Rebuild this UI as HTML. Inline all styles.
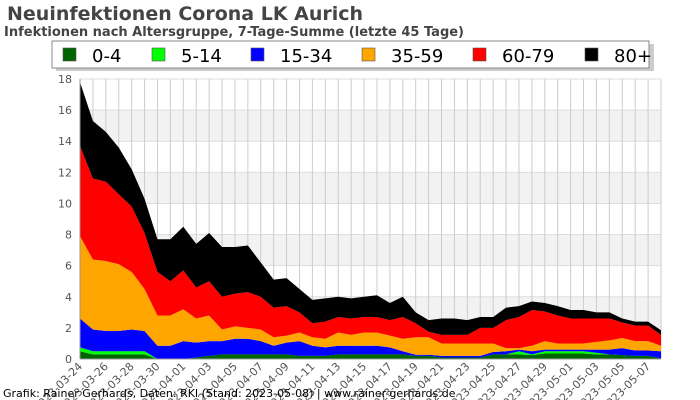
<!DOCTYPE html>
<html><head><meta charset="utf-8"><style>
body{margin:0;background:#fff;width:700px;height:400px;overflow:hidden;font-family:"DejaVu Sans","Liberation Sans",sans-serif;}
svg{display:block}
</style></head><body>
<svg id="c" width="700" height="400" xmlns="http://www.w3.org/2000/svg">
<text x="7" y="20" font-size="19" font-weight="bold" fill="#444">Neuinfektionen Corona LK Aurich</text>
<text x="4" y="36" font-size="13" font-weight="bold" fill="#444">Infektionen nach Altersgruppe, 7-Tage-Summe (letzte 45 Tage)</text>
<g id="grid"></g>
<g id="areas"></g>
<g id="axes"></g>
<rect x="56" y="44" width="598" height="27" fill="#ccc"/>
<rect x="52" y="41" width="597" height="27" fill="#fff" stroke="#888"/>
<g id="legend"></g>
<text x="3" y="397" font-size="11" fill="#000">Grafik: Rainer Gerhards, Daten: RKI (Stand: 2023-05-08) | www.rainer-gerhards.de</text>
</svg>
<script>
const groups=["0-4","5-14","15-34","35-59","60-79","80+"];
const colors=["#006400","#00ff00","#0000ff","#ffa500","#ff0000","#000000"];
const startDate="2023-03-24";
const yTicks=[0,2,4,6,8,10,12,14,16,18];
const g04=[.5,.3,.3,.3,.3,.3,0,0,0,.1,.2,.3,.3,.3,.3,.3,.3,.2,.2,.2,.3,.3,.3,.3,.3,.3,.2,.2,.1,.1,.1,.1,.3,.3,.3,.25,.35,.35,.35,.35,.3,.3,.25,.2,.2,.05];
const g514=[.25,.2,.2,.2,.2,.2,0,0,0,0,0,0,0,0,0,0,0,0,0,0,0,0,0,0,0,0,0,0,0,0,0,0,0,0,.2,.05,.15,.15,.15,.15,.1,0,0,0,0,0];
const g1534=[1.85,1.4,1.3,1.3,1.4,1.3,.85,.85,1.15,.95,.95,.85,1,1,.85,.55,.75,.95,.65,.55,.55,.55,.55,.55,.45,.2,.07,.07,.1,.1,.1,.1,.15,.2,.1,.2,.1,.1,.1,.1,.2,.3,.45,.35,.35,.45];
const g3559=[5.3,4.5,4.5,4.3,3.7,2.7,1.95,1.95,2.05,1.55,1.65,.75,.8,.7,.75,.55,.45,.55,.55,.55,.85,.7,.85,.85,.75,.8,1.13,1.13,.8,.8,.8,.8,.55,.2,.1,.35,.55,.4,.4,.4,.5,.6,.65,.6,.6,.35];
const g6079=[5.8,5.2,5.1,4.5,4.2,3.6,2.8,2.2,2.5,2,2.2,2.1,2.1,2.3,2.1,1.9,1.9,1.3,.9,1.1,1,1.05,1,1,1,1.4,.9,.35,.55,.55,.55,1,1,1.8,2,2.3,1.9,1.8,1.6,1.6,1.5,1.4,1,1,1,.7];
const g80=[4.1,3.7,3.2,3,2.4,2.2,2.1,2.7,2.8,2.8,3.1,3.2,3,3,2.2,1.8,1.8,1.5,1.5,1.5,1.3,1.3,1.3,1.4,1.1,1.3,.7,.75,1.05,1.05,.95,.7,.7,.8,.7,.55,.55,.6,.55,.55,.4,.4,.25,.25,.25,.3];
const series=[g04,g514,g1534,g3559,g6079,g80];

const NS="http://www.w3.org/2000/svg";
const X0=80,X1=661,Y0=359,Y1=79,YMAX=18;
const n=g04.length;
const xs=i=>X0+(X1-X0)*i/(n-1);
const ys=v=>Y0-(Y0-Y1)*v/YMAX;
function mk(tag,parent,attrs){const e=document.createElementNS(NS,tag);for(const k in attrs)e.setAttribute(k,attrs[k]);parent.appendChild(e);return e;}
const grid=document.getElementById('grid'),areas=document.getElementById('areas'),axes=document.getElementById('axes'),leg=document.getElementById('legend');
for(let i=0;i+1<yTicks.length;i++){
  if(i%2===1){const r=mk('rect',grid,{x:X0,y:ys(yTicks[i+1]),width:X1-X0,height:ys(yTicks[i])-ys(yTicks[i+1]),fill:'#f2f2f2'});
  
  }
}
yTicks.forEach(t=>{
  const l=mk('line',grid,{x1:X0,x2:X1,y1:ys(t),y2:ys(t),stroke:'#ddd','stroke-width':1});
  
  
  const tx=mk('text',axes,{x:X0-8,y:ys(t)+4,'text-anchor':'end','font-size':11,fill:'#555'});
  tx.textContent=t;
  
  
});
const d0=new Date(startDate+"T12:00:00Z");
for(let i=0;i<n;i++){
  const l=mk('line',grid,{x1:xs(i),x2:xs(i),y1:Y1,y2:Y0,stroke:'#ccc','stroke-width':1});
  
  
  if(i%2===0){
    const d=new Date(d0.getTime()+i*86400000);
    const s=d.toISOString().slice(0,10);
    const tx=mk('text',axes,{x:xs(i)+3,y:Y0+8,'text-anchor':'end','font-size':11,fill:'#555',transform:`rotate(-45 ${xs(i)+3} ${Y0+8})`});
    tx.textContent=s;
    
    
  }
}
const cum=new Array(n).fill(0);
series.forEach((s,k)=>{
  const low=cum.slice();
  for(let i=0;i<n;i++)cum[i]+=s[i];
  let d='M'+xs(0)+','+ys(cum[0]);
  for(let i=1;i<n;i++)d+='L'+xs(i)+','+ys(cum[i]);
  for(let i=n-1;i>=0;i--)d+='L'+xs(i)+','+ys(low[i]);
  const p=mk('path',areas,{d:d+'Z',fill:colors[k]});
  
  
});
const ax=mk('line',axes,{x1:X0,x2:X0,y1:Y1,y2:Y0,stroke:'#999'});


const bx=mk('line',axes,{x1:X0,x2:X1,y1:Y0,y2:Y0,stroke:'#999'});


const lx=[63,152,251,362,473,585];
groups.forEach((g,k)=>{
  const r=mk('rect',leg,{x:lx[k],y:48,width:13,height:13,fill:colors[k],stroke:'#555','stroke-width':0.6});
  
  
  const t=mk('text',leg,{x:lx[k]+29,y:62,'font-size':18,fill:'#000'});
  t.textContent=g;
  
  
});
</script>
</body></html>
